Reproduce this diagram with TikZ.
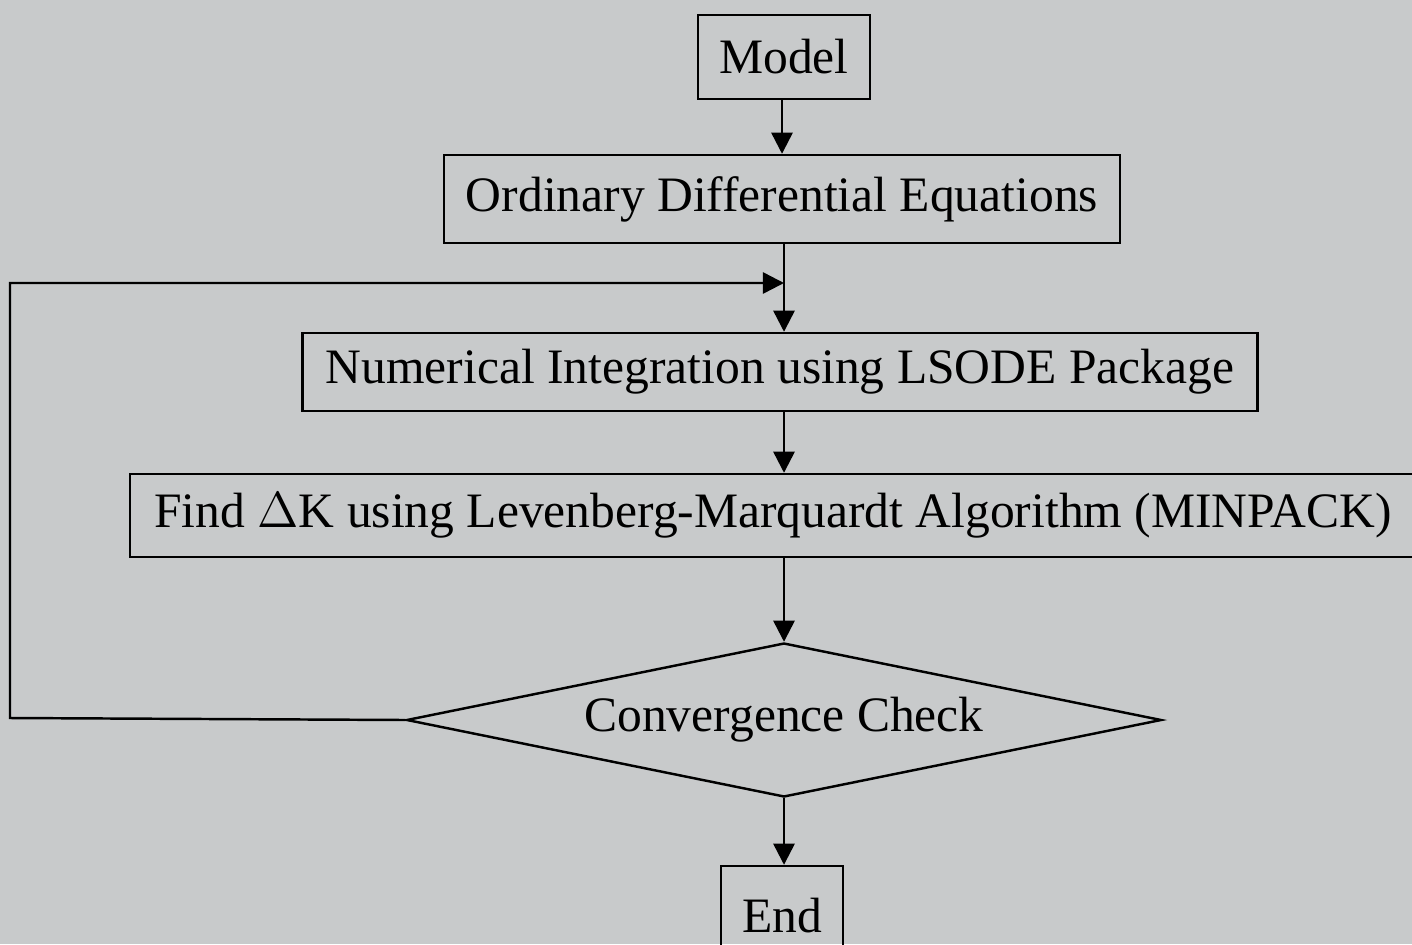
\documentclass[tikz,border=0pt]{standalone}
\usepackage{fontspec}
\setmainfont{Liberation Serif}
\usepackage{tikz}
\usetikzlibrary{arrows.meta,positioning,shapes.geometric,calc}

\definecolor{scangray}{RGB}{200,202,203}

\begin{document}
\begin{tikzpicture}[
  x=1cm, y=1cm,
  box/.style={draw=black, line width=0.7pt, inner sep=0pt, align=center,
    font=\fontsize{14.1}{17}\selectfont},
  dec/.style={draw=black, line width=0.7pt, diamond, aspect=4.9, inner sep=0pt,
    minimum width=7.55cm, minimum height=1.54cm, align=center,
    font=\fontsize{14.1}{17}\selectfont},
  arr/.style={-{Triangle[length=6pt, width=6pt]}, line width=0.7pt}
]
\fill[scangray] (0,0) rectangle (14.12,-9.44);
\useasboundingbox (0,0) rectangle (14.12,-9.44);

\node[box, minimum width=1.72cm, minimum height=0.84cm] (model) at (7.84,-0.57) {Model};
\node[box, minimum width=6.76cm, minimum height=0.88cm] (ode)   at (7.82,-1.99) {Ordinary Differential Equations};
\node[box, minimum width=9.55cm, minimum height=0.78cm] (num)   at (7.80,-3.72) {Numerical Integration using LSODE Package};
\node[box, minimum width=12.86cm, minimum height=0.83cm] (find) at (7.73,-5.155) {Find $\Delta$K using Levenberg-Marquardt Algorithm (MINPACK)};
\node[dec]   (conv)   at (7.84,-7.20)  {Convergence Check};
\node[box, minimum width=1.22cm, minimum height=1.00cm] (end)   at (7.82,-9.16) {End};

\coordinate (join) at (7.84,-2.83);
\coordinate (loop) at (0.10,-7.18);

\draw[arr] (model.south -| ode.north) -- (ode.north);
\draw[arr] (ode.south -| conv.north) -- (num.north -| conv.north);
\draw[arr] (num.south -| conv.north) -- (find.north -| conv.north);
\draw[arr] (find.south -| conv.north) -- (conv.north);
\draw[arr] (conv.south) -- (end.north -| conv.south);
\draw[arr] (conv.west) -- (loop) |- (join);
\end{tikzpicture}
\end{document}
